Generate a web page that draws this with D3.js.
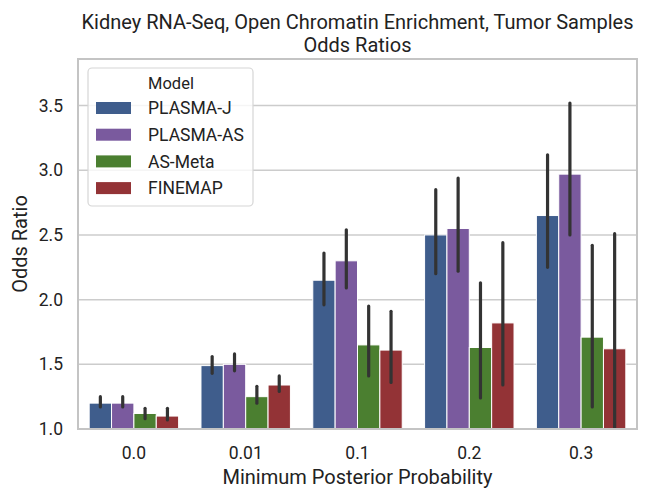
<!DOCTYPE html>
<html><head><meta charset="utf-8">
<script src="https://cdn.jsdelivr.net/npm/d3@7"></script>
<style>body{margin:0;background:#fff}text{font-family:Roboto,"Liberation Sans",sans-serif;fill:#222}</style>
</head><body><svg id="c" width="650" height="502"></svg>
<script>
const categories = ["0.0","0.01","0.1","0.2","0.3"];
const models = ["PLASMA-J","PLASMA-AS","AS-Meta","FINEMAP"];
const colors = ["#3f5d8c","#7a5a9e","#4b7f30","#933336"];
// odds ratio per model per category
const plasmaJ  = [1.20,1.49,2.15,2.50,2.65];
const plasmaAS = [1.20,1.50,2.30,2.55,2.97];
const asMeta   = [1.12,1.25,1.65,1.63,1.71];
const finemap  = [1.10,1.34,1.61,1.82,1.62];
// confidence intervals [low, high]
const plasmaJCI  = [[1.17,1.25],[1.43,1.56],[1.96,2.36],[2.20,2.85],[2.25,3.12]];
const plasmaASCI = [[1.17,1.25],[1.45,1.58],[2.09,2.54],[2.22,2.94],[2.50,3.52]];
const asMetaCI   = [[1.08,1.16],[1.20,1.33],[1.41,1.95],[1.24,2.13],[1.17,2.42]];
const finemapCI  = [[1.07,1.16],[1.29,1.41],[1.36,1.91],[1.34,2.44],[0.90,2.51]];
const yTicks = [1.0,1.5,2.0,2.5,3.0,3.5];

const values = [plasmaJ, plasmaAS, asMeta, finemap];
const cis = [plasmaJCI, plasmaASCI, asMetaCI, finemapCI];

const svg = d3.select("#c");
const L=78, R=637, T=59, B=429;
const x = d3.scaleBand().domain(categories).range([L,R]).paddingInner(0.2).paddingOuter(0.1);
const x1 = d3.scaleBand().domain(models).range([0,x.bandwidth()]);
const y = d3.scaleLinear().domain([1.0,3.86]).range([B,T]);

// grid
svg.append("g").selectAll("line").data(yTicks).join("line")
  .attr("x1",L).attr("x2",R).attr("y1",d=>y(d)).attr("y2",d=>y(d))
  .attr("stroke","#cccccc").attr("stroke-width",1.5);

svg.append("clipPath").attr("id","pc").append("rect")
  .attr("x",L).attr("y",T).attr("width",R-L).attr("height",B-T);

const gBars = svg.append("g").attr("clip-path","url(#pc)");
models.forEach((m,i)=>{
  const g = gBars.append("g");
  g.selectAll("rect").data(categories).join("rect")
    .attr("x",c=>x(c)+x1(m)).attr("width",x1.bandwidth())
    .attr("y",(c,j)=>y(values[i][j])).attr("height",(c,j)=>y(1.0)-y(values[i][j]))
    .attr("fill",colors[i]).attr("stroke","#ffffff").attr("stroke-width",1);
});
models.forEach((m,i)=>{
  gBars.append("g").selectAll("line").data(categories).join("line")
    .attr("x1",c=>x(c)+x1(m)+x1.bandwidth()/2).attr("x2",c=>x(c)+x1(m)+x1.bandwidth()/2)
    .attr("y1",(c,j)=>y(cis[i][j][0])).attr("y2",(c,j)=>y(cis[i][j][1]))
    .attr("stroke","#333333").attr("stroke-width",3.2).attr("stroke-linecap","round");
});

// frame
svg.append("rect").attr("x",L).attr("y",T).attr("width",R-L).attr("height",B-T)
  .attr("fill","none").attr("stroke","#c4c4c4").attr("stroke-width",2);

// axes
const ya = svg.append("g").attr("transform",`translate(${L},0)`)
  .call(d3.axisLeft(y).tickValues(yTicks).tickFormat(d3.format(".1f")).tickSize(0).tickPadding(15));
ya.select(".domain").remove();
ya.selectAll("text").attr("font-size",17.5).style("fill","#222");
const xa = svg.append("g").attr("transform",`translate(0,${B})`)
  .call(d3.axisBottom(x).tickSize(0).tickPadding(18));
xa.select(".domain").remove();
xa.selectAll("text").attr("font-size",17.5).style("fill","#222");

// labels
svg.append("text").attr("x",(L+R)/2).attr("y",484).attr("text-anchor","middle")
  .attr("font-size",20).text("Minimum Posterior Probability");
svg.append("text").attr("transform",`translate(27,${(T+B)/2}) rotate(-90)`).attr("text-anchor","middle")
  .attr("font-size",20).text("Odds Ratio");
svg.append("text").attr("x",(L+R)/2).attr("y",29).attr("text-anchor","middle")
  .attr("font-size",20).text("Kidney RNA-Seq, Open Chromatin Enrichment, Tumor Samples");
svg.append("text").attr("x",(L+R)/2).attr("y",52).attr("text-anchor","middle")
  .attr("font-size",20).text("Odds Ratios");

// legend
const lg = svg.append("g");
lg.append("rect").attr("x",88).attr("y",68).attr("width",165).attr("height",138).attr("rx",4)
  .attr("fill","rgba(255,255,255,0.8)").attr("stroke","#d6d6d6").attr("stroke-width",1.2);
lg.append("text").attr("x",171).attr("y",89).attr("text-anchor","middle").attr("font-size",16.5).text("Model");
models.forEach((m,i)=>{
  const cy = 108 + i*26.7;
  lg.append("rect").attr("x",96).attr("y",cy-6).attr("width",35).attr("height",12).attr("fill",colors[i]);
  lg.append("text").attr("x",148).attr("y",cy+6.3).attr("font-size",17.5).text(m);
});
</script></body></html>
